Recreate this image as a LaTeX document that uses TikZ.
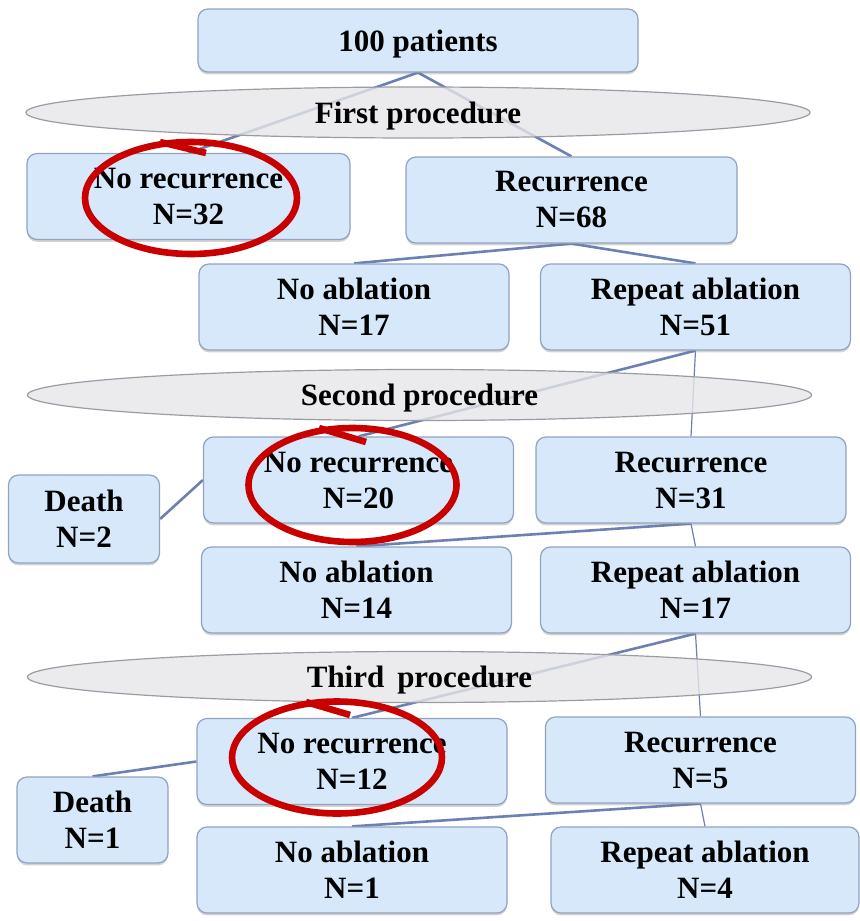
\documentclass[tikz,border=0pt]{standalone}
\usepackage{fontspec}
\setmainfont{Liberation Serif}
\usepackage{xcolor}
\usetikzlibrary{shadows,backgrounds,shapes.geometric}

\definecolor{boxfill}{RGB}{214,232,249}
\definecolor{boxline}{RGB}{145,163,192}
\definecolor{ellfill}{RGB}{230,230,232}
\definecolor{ellline}{RGB}{155,155,165}
\definecolor{linkcol}{RGB}{108,128,180}
\definecolor{ringred}{RGB}{200,0,0}

\tikzset{
  stage/.style={draw=boxline, line width=0.6pt, fill=boxfill, rounded corners=5pt,
    minimum height=43pt, align=center, inner sep=0pt,
    font=\fontsize{15.5}{18}\selectfont\bfseries,
    drop shadow={shadow xshift=0pt, shadow yshift=-1.2pt, opacity=0.35}},
  wide/.style={stage, minimum width=155pt},
  narrow/.style={stage, minimum width=75.5pt},
  proc/.style={ellipse, draw=ellline, line width=0.6pt, fill=ellfill, fill opacity=0.8,
    text opacity=1, minimum width=392pt, minimum height=25.5pt, inner sep=0pt,
    text depth=0pt, font=\fontsize{15.5}{18}\selectfont\bfseries},
  link/.style={draw=linkcol, line width=1.3pt},
  thinlink/.style={draw=linkcol, line width=0.6pt},
  ring/.style={draw=ringred, line width=3.3pt}
}

\begin{document}
\begin{tikzpicture}[x=0.5pt,y=-0.5pt]
\useasboundingbox (0,0) rectangle (859,921);

\node[stage, minimum width=220pt, minimum height=31.5pt, text depth=0pt] (pat) at (418,40.5) {100 patients};
\node[proc] (first) at (418,112.5) {First procedure};

\node[stage, minimum width=161.5pt] (nr1) at (188.5,196.5) {No recurrence\\N=32};
\node[stage, minimum width=165.5pt] (rec1) at (571.5,200) {Recurrence\\N=68};
\node[wide] (na1) at (354,307) {No ablation\\N=17};
\node[wide] (ra1) at (695.5,307) {Repeat ablation\\N=51};

\node[proc] (second) at (419.5,395) {Second procedure};

\node[wide] (nr2) at (358.5,480) {No recurrence\\N=20};
\node[wide] (rec2) at (691,480) {Recurrence\\N=31};
\node[narrow, minimum height=44pt] (death2) at (84,519) {Death\\N=2};
\node[wide] (na2) at (356.5,590) {No ablation\\N=14};
\node[wide] (ra2) at (695.5,590) {Repeat ablation\\N=17};

\node[proc] (third) at (419.5,677) {Third\, procedure};

\node[wide] (nr3) at (352,761.5) {No recurrence\\N=12};
\node[wide] (rec3) at (700.5,760) {Recurrence\\N=5};
\node[narrow] (death1) at (92.5,820) {Death\\N=1};
\node[wide] (na3) at (352,870) {No ablation\\N=1};
\node[wide, minimum width=154pt] (ra3) at (705,870) {Repeat ablation\\N=4};

% links, kept under the boxes
\begin{pgfonlayer}{background}
\draw[link] (pat.south) -- (nr1.north);
\draw[link] (pat.south) -- (rec1.north);
\draw[link] (rec1.south) -- (na1.north);
\draw[link] (rec1.south) -- (ra1.north);
\draw[link] (ra1.south) -- (nr2.north);
\draw[thinlink] (ra1.south) -- (rec2.north);
\draw[link] (death2.east) -- (nr2.west);
\draw[link] (rec2.south) -- (na2.north);
\draw[thinlink] (rec2.south) -- (ra2.north);
\draw[link] (ra2.south) -- (nr3.north);
\draw[thinlink] (ra2.south) -- (rec3.north);
\draw[link] (nr3.west) -- (death1.north);
\draw[link] (rec3.south) -- (na3.north);
\draw[thinlink] (rec3.south) -- (ra3.north);
\end{pgfonlayer}

% red rings
\draw[ring] (191,198) ellipse [x radius=106, y radius=56];
\draw[ring] (160,142) -- (206,153);
\draw[ring] (352.5,485) ellipse [x radius=104, y radius=57];
\draw[ring] (319,428) -- (366,442);
\draw[ring] (337,757.5) ellipse [x radius=105, y radius=56];
\draw[ring] (306,702) -- (350,715);
\end{tikzpicture}
\end{document}
